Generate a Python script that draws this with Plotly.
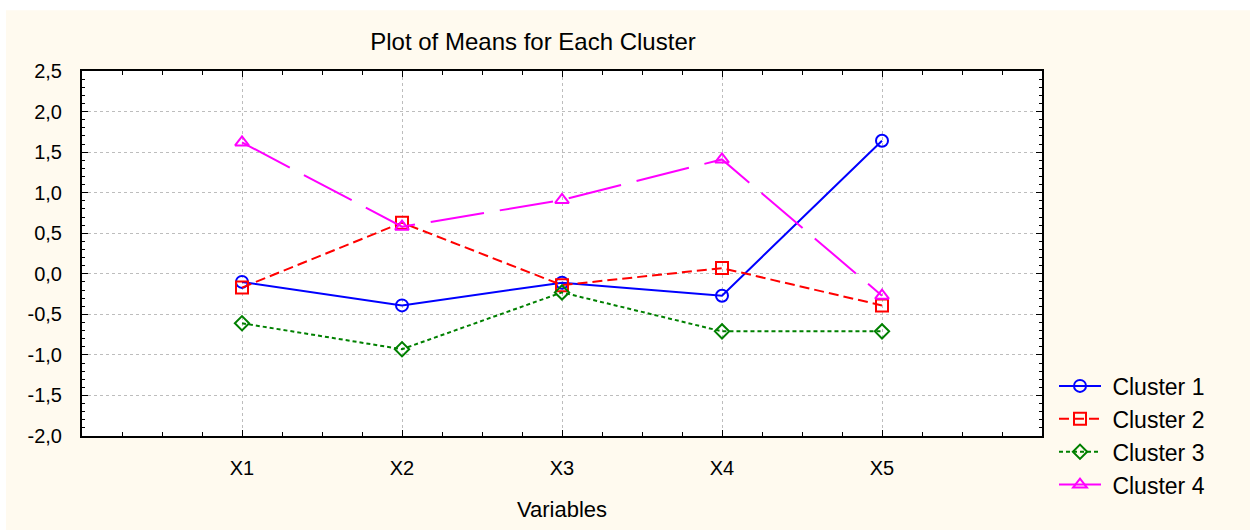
import plotly.graph_objects as go

variables = ["X1", "X2", "X3", "X4", "X5"]
cluster1 = [-0.10, -0.39, -0.11, -0.27, 1.64]
cluster2 = [-0.17, 0.63, -0.14, 0.07, -0.39]
cluster3 = [-0.61, -0.93, -0.23, -0.71, -0.71]
cluster4 = [1.62, 0.58, 0.91, 1.41, -0.27]
names = ["Cluster 1", "Cluster 2", "Cluster 3", "Cluster 4"]
y_ticks = [-2.0, -1.5, -1.0, -0.5, 0.0, 0.5, 1.0, 1.5, 2.0, 2.5]

xpos = list(range(1, len(variables) + 1))
series = [cluster1, cluster2, cluster3, cluster4]
styles = [
    dict(color="#0000FF", dash="solid", symbol="circle-open", size=12),
    dict(color="#FF0000", dash="10px,5px", symbol="square-open", size=12),
    dict(color="#008000", dash="4px,3px", symbol="diamond-open", size=11),
    dict(color="#FF00FF", dash="54px,16px", symbol="triangle-up-open", size=12),
]

fig = go.Figure()
for i, (nm, vals, st) in enumerate(zip(names, series, styles)):
    fig.add_trace(go.Scatter(
        x=xpos, y=vals, name="\u00a0" + nm, mode="lines+markers",
        legendgroup=f"g{i}",
        line=dict(color=st["color"], width=2, dash=st["dash"]),
        marker=dict(symbol=st["symbol"], size=st["size"], color=st["color"],
                    line=dict(width=2, color=st["color"])),
    ))

font_family = "Liberation Sans, Arial, sans-serif"
fig.update_layout(
    width=1250, height=530,
    paper_bgcolor="#FFFAEF",
    plot_bgcolor="#FFFFFF",
    margin=dict(l=82, r=208, t=71, b=92),
    font=dict(family=font_family, size=20, color="black"),
    title=dict(text="Plot of Means for Each Cluster", x=0.4264, xanchor="center",
               y=1 - 42 / 530, yanchor="middle", font=dict(size=24)),
    showlegend=True,
    legend=dict(x=1.0125, xanchor="left", y=0.196, yanchor="top",
                bgcolor="rgba(0,0,0,0)", font=dict(size=23), tracegroupgap=0,
                itemwidth=42),
    shapes=[
        dict(type="rect", xref="paper", yref="paper", x0=-0.2, x1=1.3,
             y0=1 + (71 - 10) / 367, y1=1.5, fillcolor="white", line_width=0, layer="below"),
        dict(type="rect", xref="paper", yref="paper", x0=-0.2, x1=-(82 - 6) / 960,
             y0=-0.5, y1=1.5, fillcolor="white", line_width=0, layer="below"),
    ],
)

fig.update_xaxes(
    range=[0, len(variables) + 1], tickmode="array", tickvals=xpos, ticktext=variables,
    showline=True, linecolor="black", linewidth=2, mirror="ticks",
    ticks="inside", ticklen=6, tickcolor="black", tickwidth=1,
    showgrid=True, gridcolor="#BDBDBD", griddash="dot", gridwidth=1,
    zeroline=False, ticklabelstandoff=13,
    minor=dict(dtick=0.25, ticks="inside", ticklen=4, tickcolor="black", showgrid=False),
    title=dict(text="Variables", standoff=24, font=dict(size=22)),
)
fig.update_yaxes(
    range=[-2.0, 2.5], tickmode="array", tickvals=y_ticks,
    ticktext=[f"{v:.1f}".replace(".", ",") for v in y_ticks],
    showline=True, linecolor="black", linewidth=2, mirror="ticks",
    ticks="inside", ticklen=6, tickcolor="black", tickwidth=1,
    showgrid=True, gridcolor="#BDBDBD", griddash="dot", gridwidth=1,
    zeroline=False, ticklabelstandoff=14,
    minor=dict(dtick=0.1, ticks="inside", ticklen=3, tickcolor="black", showgrid=False),
)

fig.write_html("out.html", config={"displayModeBar": False},
               post_script="document.body.style.margin='0';")
